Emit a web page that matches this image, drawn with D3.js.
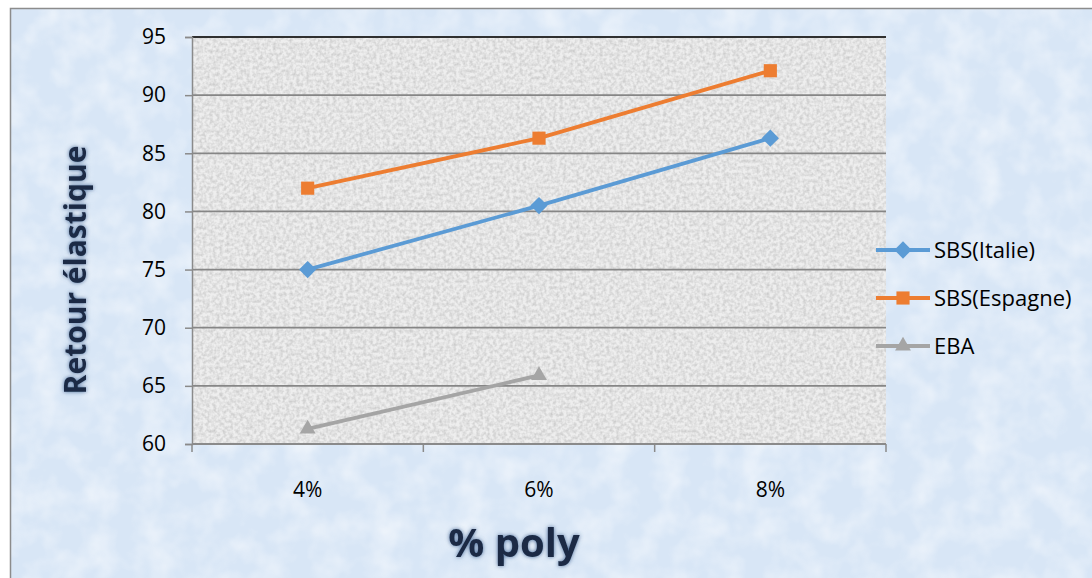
<!DOCTYPE html>
<html>
<head>
<meta charset="utf-8">
<script src="https://cdn.jsdelivr.net/npm/d3@7"></script>
<style>
  html, body { margin: 0; padding: 0; background: #fff; }
  svg { display: block; font-family: "Open Sans", "Noto Sans", sans-serif; }
</style>
</head>
<body>
<div id="chart"></div>
<script>
// données ---------------------------------------------------------------
const categories = ['4%', '6%', '8%'];
const sbsItalie = [75, 80.5, 86.3];
const sbsEspagne = [82, 86.3, 92.1];
const eba = [61.3, 65.9];
const yTicks = [60, 65, 70, 75, 80, 85, 90, 95];
const seriesNames = ['SBS(Italie)', 'SBS(Espagne)', 'EBA'];

const series = [
  { name: seriesNames[0], values: sbsItalie, color: '#5B9BD5', symbol: 'diamond' },
  { name: seriesNames[1], values: sbsEspagne, color: '#ED7D31', symbol: 'square' },
  { name: seriesNames[2], values: eba, color: '#A5A5A5', symbol: 'triangle' }
];

// dimensions ------------------------------------------------------------
const width = 1092;
const height = 578;
const plot = { left: 192, right: 886, top: 37, bottom: 444 };

const svg = d3.select('#chart').append('svg')
  .attr('width', width)
  .attr('height', height);

// textures --------------------------------------------------------------
const defs = svg.append('defs');
const fBg = defs.append('filter').attr('id', 'noiseBg').attr('x', 0).attr('y', 0).attr('width', '100%').attr('height', '100%');
fBg.append('feTurbulence').attr('type', 'fractalNoise').attr('baseFrequency', 0.035).attr('numOctaves', 3).attr('seed', 4);
fBg.append('feColorMatrix').attr('type', 'matrix')
  .attr('values', '0 0 0 0 1  0 0 0 0 1  0 0 0 0 1  0 0 0 1.2 -0.45');
const fPlot = defs.append('filter').attr('id', 'noisePlot').attr('x', 0).attr('y', 0).attr('width', '100%').attr('height', '100%');
fPlot.append('feTurbulence').attr('type', 'fractalNoise').attr('baseFrequency', 0.3).attr('numOctaves', 2).attr('seed', 7);
fPlot.append('feColorMatrix').attr('type', 'matrix')
  .attr('values', '0 0 0 0 0.5  0 0 0 0 0.5  0 0 0 0 0.5  0 0 0 1.8 -0.6');
const glow = defs.append('filter').attr('id', 'glow').attr('x', '-20%').attr('y', '-20%').attr('width', '140%').attr('height', '140%');
glow.append('feGaussianBlur').attr('in', 'SourceAlpha').attr('stdDeviation', 2.2).attr('result', 'b');
glow.append('feFlood').attr('flood-color', '#3d5f8f').attr('flood-opacity', 0.9);
glow.append('feComposite').attr('in2', 'b').attr('operator', 'in').attr('result', 's');
const gm = glow.append('feMerge');
gm.append('feMergeNode').attr('in', 's');
gm.append('feMergeNode').attr('in', 'SourceGraphic');

// fond du graphique -----------------------------------------------------
svg.append('rect')
  .attr('x', 10).attr('y', 8).attr('width', width - 10).attr('height', height - 8)
  .attr('fill', '#d8e6f6');
svg.append('rect')
  .attr('x', 10).attr('y', 8).attr('width', width - 10).attr('height', height - 8)
  .attr('filter', 'url(#noiseBg)').attr('opacity', 0.8);
svg.append('path')
  .attr('d', `M10.5,${height}V8.5H${width}`)
  .attr('fill', 'none').attr('stroke', '#8c8c8c').attr('stroke-width', 1.5);

// zone de tracé ---------------------------------------------------------
svg.append('rect')
  .attr('x', plot.left).attr('y', plot.top)
  .attr('width', plot.right - plot.left).attr('height', plot.bottom - plot.top)
  .attr('fill', '#eeeeee');
svg.append('rect')
  .attr('x', plot.left).attr('y', plot.top)
  .attr('width', plot.right - plot.left).attr('height', plot.bottom - plot.top)
  .attr('filter', 'url(#noisePlot)').attr('opacity', 0.7);

// échelles --------------------------------------------------------------
const x = d3.scaleBand().domain(categories).range([plot.left, plot.right]).paddingInner(0).paddingOuter(0);
const y = d3.scaleLinear().domain([60, 95]).range([plot.bottom, plot.top]);
const cx = c => x(c) + x.bandwidth() / 2;

// quadrillage -----------------------------------------------------------
svg.append('g')
  .selectAll('line')
  .data(yTicks.slice(1))
  .enter()
  .append('line')
  .attr('x1', plot.left).attr('x2', plot.right)
  .attr('y1', d => y(d)).attr('y2', d => y(d))
  .attr('stroke', d => d === 95 ? '#303030' : '#868686')
  .attr('stroke-width', d => d === 95 ? 2 : 1.8);

// axe Y -----------------------------------------------------------------
const yAxis = svg.append('g')
  .attr('transform', `translate(${plot.left},0)`)
  .call(d3.axisLeft(y).tickValues(yTicks).tickSize(7).tickPadding(19).tickFormat(d3.format('d')));
yAxis.select('.domain').attr('stroke', '#8a8a8a').attr('stroke-width', 1.5);
yAxis.selectAll('.tick line').attr('stroke', '#8a8a8a').attr('stroke-width', 1.5);
yAxis.selectAll('.tick text')
  .attr('font-size', '21px').attr('fill', '#000')
  .attr('font-family', '"Open Sans", sans-serif');

// axe X -----------------------------------------------------------------
const xAxis = svg.append('g')
  .attr('transform', `translate(0,${plot.bottom})`);
xAxis.append('line')
  .attr('x1', plot.left).attr('x2', plot.right)
  .attr('stroke', '#8a8a8a').attr('stroke-width', 1.8);
const bounds = categories.map(c => x(c)).concat([plot.right]);
xAxis.selectAll('.xtick')
  .data(bounds)
  .enter()
  .append('line')
  .attr('x1', d => d).attr('x2', d => d)
  .attr('y1', 0).attr('y2', 8)
  .attr('stroke', '#8a8a8a').attr('stroke-width', 1.5);
xAxis.selectAll('.xlabel')
  .data(categories)
  .enter()
  .append('text')
  .attr('x', d => cx(d))
  .attr('y', 53)
  .attr('text-anchor', 'middle')
  .attr('font-size', '21px')
  .attr('fill', '#000')
  .text(d => d);

// séries ----------------------------------------------------------------
const symbolOf = {
  diamond: d3.symbol().type(d3.symbolDiamond2).size(190),
  square: d3.symbol().type(d3.symbolSquare2).size(220),
  triangle: d3.symbol().type(d3.symbolTriangle2).size(180)
};
const line = d3.line()
  .x((d, i) => cx(categories[i]))
  .y(d => y(d));

series.forEach(s => {
  const g = svg.append('g');
  g.append('path')
    .datum(s.values)
    .attr('d', line)
    .attr('fill', 'none')
    .attr('stroke', s.color)
    .attr('stroke-width', 3.8)
    .attr('stroke-linejoin', 'round');
  g.selectAll('path.mark')
    .data(s.values)
    .enter()
    .append('path')
    .attr('class', 'mark')
    .attr('transform', (d, i) => `translate(${cx(categories[i])},${y(d)})`)
    .attr('d', symbolOf[s.symbol])
    .attr('fill', s.color);
});

// légende ---------------------------------------------------------------
const legend = svg.append('g')
  .attr('transform', 'translate(876,250)');
const item = legend.selectAll('g')
  .data(series)
  .enter()
  .append('g')
  .attr('transform', (d, i) => `translate(0,${i * 48})`);
item.append('line')
  .attr('x1', 0).attr('x2', 54)
  .attr('stroke', d => d.color).attr('stroke-width', 3.8);
item.append('path')
  .attr('transform', 'translate(27,0)')
  .attr('d', d => symbolOf[d.symbol]())
  .attr('fill', d => d.color);
item.append('text')
  .attr('x', 58)
  .attr('y', 8)
  .attr('font-size', '22px')
  .attr('fill', '#000')
  .text(d => d.name);

// titres des axes -------------------------------------------------------
svg.append('text')
  .attr('transform', 'translate(86,270) rotate(-90)')
  .attr('text-anchor', 'middle')
  .attr('font-size', '30px')
  .attr('font-weight', 'bold')
  .attr('fill', '#1a2a44')
  .attr('filter', 'url(#glow)')
  .text('Retour élastique');

svg.append('text')
  .attr('x', 514)
  .attr('y', 557)
  .attr('text-anchor', 'middle')
  .attr('font-size', '40px')
  .attr('font-weight', 'bold')
  .attr('fill', '#1a2a44')
  .attr('filter', 'url(#glow)')
  .text('% poly');
</script>
</body>
</html>
